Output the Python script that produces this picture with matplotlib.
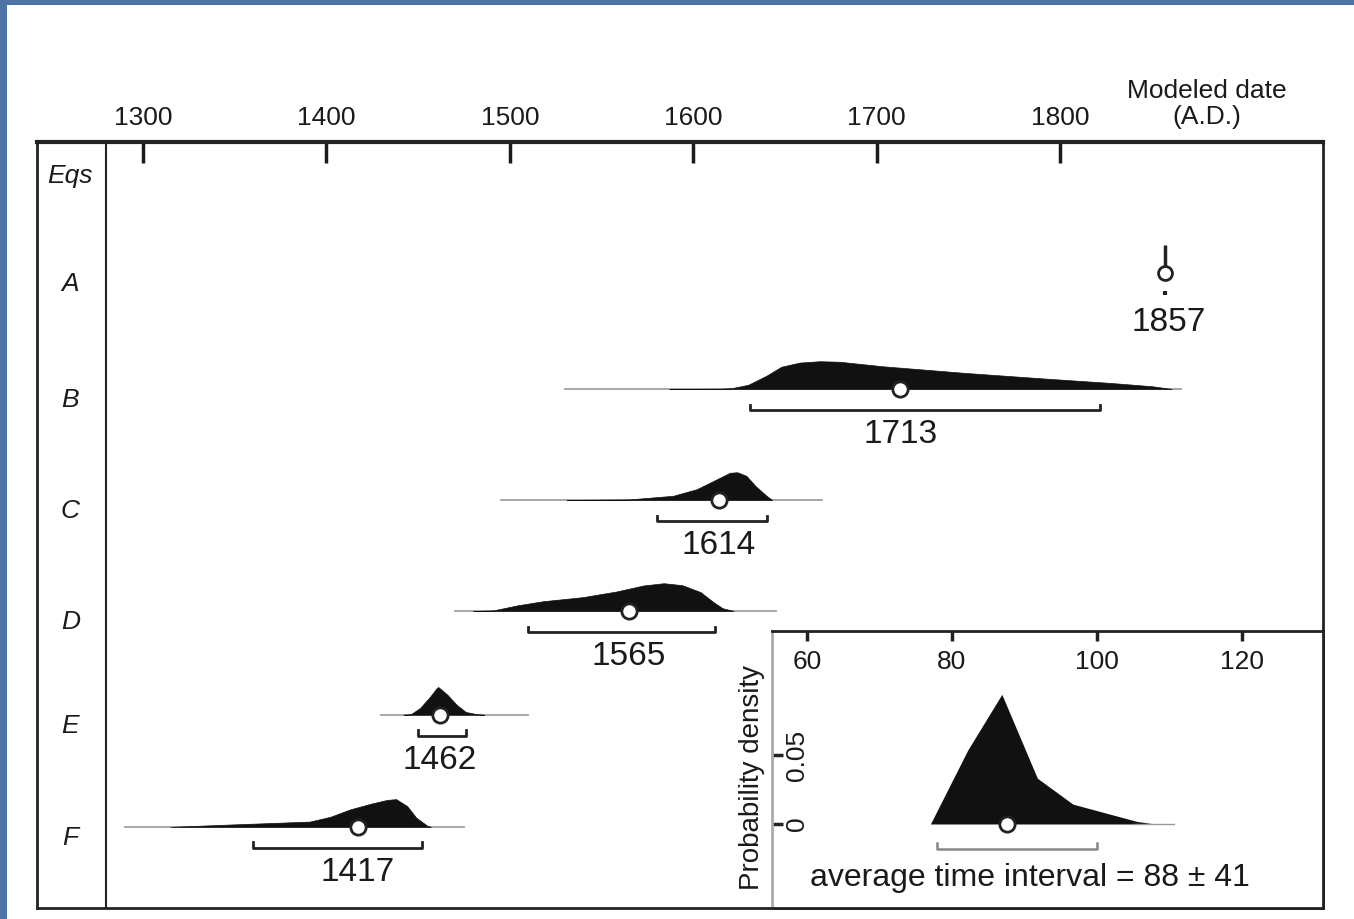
import numpy as np
import matplotlib.pyplot as plt
from matplotlib.patches import Rectangle

plt.rcParams['font.family'] = ['Liberation Sans', 'DejaVu Sans']

# Events, modeled dates (A.D.)
events = ['A', 'B', 'C', 'D', 'E', 'F']
medians = [1857, 1713, 1614, 1565, 1462, 1417]
range95_lo = [None, 1631, 1580, 1510, 1450, 1360]
range95_hi = [None, 1822, 1640, 1612, 1476, 1452]
full_lo = [None, 1530, 1495, 1470, 1430, 1290]
full_hi = [None, 1866, 1670, 1645, 1510, 1475]

# probability density (relative, peak = 1)
B_years = [1587, 1615, 1621, 1630, 1640, 1648, 1658, 1669, 1680, 1703, 1748, 1793, 1827, 1850, 1861]
B_dens = [0, 0.01, 0.03, 0.15, 0.48, 0.8, 0.95, 1.0, 0.98, 0.82, 0.58, 0.37, 0.22, 0.1, 0]
C_years = [1531, 1565, 1589, 1602, 1613, 1620, 1624, 1629, 1634, 1640, 1643]
C_dens = [0, 0.02, 0.15, 0.39, 0.75, 0.98, 1.0, 0.87, 0.5, 0.15, 0]
D_years = [1480, 1491, 1504, 1518, 1540, 1558, 1573, 1584, 1594, 1604, 1611, 1616, 1622]
D_dens = [0, 0.02, 0.2, 0.35, 0.5, 0.7, 0.92, 1.0, 0.93, 0.68, 0.32, 0.1, 0]
E_years = [1442, 1446, 1451, 1456.5, 1460, 1461, 1466, 1471, 1476, 1482, 1486]
E_dens = [0, 0.02, 0.24, 0.65, 0.95, 1.0, 0.72, 0.36, 0.1, 0.02, 0]
F_years = [1315, 1346, 1391, 1402, 1413, 1424, 1433, 1438, 1444, 1449, 1455, 1457]
F_dens = [0, 0.08, 0.19, 0.36, 0.63, 0.83, 0.97, 1.0, 0.75, 0.33, 0.04, 0]
densities = {'B': (B_years, B_dens), 'C': (C_years, C_dens), 'D': (D_years, D_dens),
             'E': (E_years, E_dens), 'F': (F_years, F_dens)}

# inset: average time interval between events
interval = [77.05, 82.2, 86.9, 91.8, 96.7, 105.5, 108.0]
interval_dens = [0, 0.0536, 0.094, 0.0332, 0.0144, 0.0019, 0]
interval_mean = 87.6
interval_lo, interval_hi = 77.9, 100.0

year_ticks = [1300, 1400, 1500, 1600, 1700, 1800]
inset_xticks = [60, 80, 100, 120]
inset_yticks = [0, 0.05]

row_y = [1.0, 2.045, 3.045, 4.045, 4.98, 5.99]
H = 0.25
dark = '#1a1a1a'

W, Hpx = 1354, 919
fig = plt.figure(figsize=(W / 100, Hpx / 100), dpi=100, facecolor='#4d74a4')
fig.patches.append(Rectangle((7 / W, 0), 1, 1 - 5 / Hpx, transform=fig.transFigure,
                             facecolor='white', edgecolor='none', zorder=-10))

ax = fig.add_axes([37 / W, 1 - 908 / Hpx, (1323 - 37) / W, (908 - 142) / Hpx])
ax.set_xlim(1242.2, 1943.4)
ax.set_ylim(6.721, -0.180)
for s in ax.spines.values():
    s.set_linewidth(2)
    s.set_color('#222222')
ax.spines['top'].set_linewidth(3)
ax.set_xticks(year_ticks)
ax.set_yticks([])
ax.tick_params(axis='x', top=True, bottom=False, labeltop=True, labelbottom=False,
               direction='in', length=15, width=2.5, pad=9, labelsize=19, colors=dark)
ax.axvline(1279.8, color='#222222', lw=1.5)

ax.text(0.026, 0.126, 'Eqs', transform=ax.get_yaxis_transform(), ha='center', va='center',
        fontsize=19, style='italic', color=dark)

for i, ev in enumerate(events):
    b = row_y[i]
    ax.text(0.026, b + 0.1, ev, transform=ax.get_yaxis_transform(), ha='center', va='center',
            fontsize=19, style='italic', color=dark)
    m = medians[i]
    if ev == 'A':
        ax.plot([m, m], [b - 0.25, b - 0.06], color='#222222', lw=2.5, solid_capstyle='butt')
        ax.plot([m, m], [b + 0.16, b + 0.2], color='#222222', lw=3, solid_capstyle='butt')
        ax.plot(m, b, 'o', ms=10, mfc='white', mec='#222222', mew=2, zorder=5)
        ax.text(m + 2, b + 0.45, str(m), ha='center', va='center', fontsize=24, color=dark)
        continue
    yrs, d = densities[ev]
    ax.plot([full_lo[i], full_hi[i]], [b, b], color='#a0a0a0', lw=1.3, zorder=2)
    ax.fill_between(yrs, b, b - H * np.array(d), color='#111111', lw=0.5, zorder=3)
    ax.plot(m, b, 'o', ms=11, mfc='white', mec='#222222', mew=2, zorder=5)
    lo, hi = range95_lo[i], range95_hi[i]
    ax.plot([lo, lo, hi, hi], [b + 0.14, b + 0.19, b + 0.19, b + 0.14], color='#222222', lw=2)
    ax.text(m, b + 0.41, str(m), ha='center', va='center', fontsize=24, color=dark)

fig.text(1207 / W, 1 - 104 / Hpx, 'Modeled date\n(A.D.)', ha='center', va='center',
         fontsize=19, color=dark, linespacing=1.1)

# inset
ins = fig.add_axes([772 / W, 1 - 908 / Hpx, (1323 - 772) / W, (908 - 631) / Hpx])
ins.set_xlim(55.2, 131.2)
ins.set_ylim(-0.0609, 0.1399)
for s in ins.spines.values():
    s.set_linewidth(2)
    s.set_color('#222222')
ins.spines['left'].set_color('#aaaaaa')
ins.set_xticks(inset_xticks)
ins.set_yticks(inset_yticks)
ins.tick_params(axis='x', top=True, bottom=False, labeltop=False, labelbottom=False,
                direction='in', length=7, width=2.5, colors='#222222')
ins.tick_params(axis='y', left=True, labelleft=False, direction='in', length=8, width=2.5,
                colors='#222222')
for t in inset_xticks:
    ins.text(t, 0.889, str(t), transform=ins.get_xaxis_transform(), ha='center', va='center',
             fontsize=19, color=dark)
for t in inset_yticks:
    ins.text(58.6, t, '0' if t == 0 else str(t), ha='center', va='center', rotation=90,
             fontsize=19, color=dark)
ins.plot([105, 110.6], [0, 0], color='#999999', lw=1)
ins.fill_between(interval, 0, interval_dens, color='#111111', lw=0)
ins.plot(interval_mean, 0, 'o', ms=11, mfc='white', mec='#222222', mew=2, zorder=5)
ins.plot([interval_lo, interval_lo, interval_hi, interval_hi], [-0.014, -0.018, -0.018, -0.014],
         color='#888888', lw=1.8)
ins.text(90.8, -0.039, 'average time interval = 88 \u00b1 41', ha='center', va='center',
         fontsize=23, color=dark)

fig.text(752 / W, 1 - 777 / Hpx, 'Probability density', rotation=90, ha='center', va='center',
         fontsize=20, color=dark)

fig.savefig('out.png', dpi=100, facecolor=fig.get_facecolor())
